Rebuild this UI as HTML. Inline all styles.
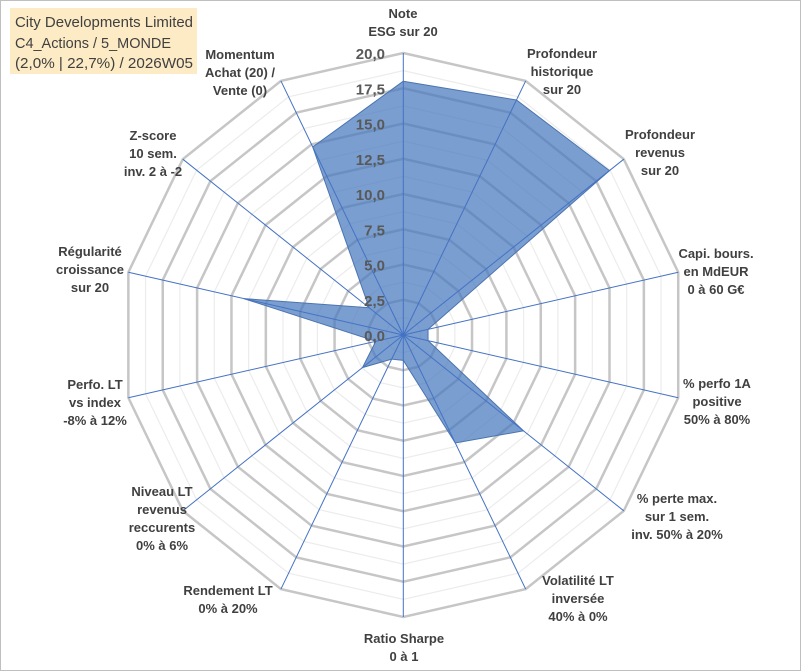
<!DOCTYPE html>
<html><head><meta charset="utf-8"><style>
html,body{margin:0;padding:0;background:#fff}
svg{display:block;font-family:"Liberation Sans",sans-serif}
</style></head><body>
<svg id="chart" width="801" height="671">
<rect x="0.5" y="0.5" width="800" height="670" fill="#fff" stroke="#bfbfbf"/>
<g id="grid"></g><g id="series"></g><g id="spokes"></g><g id="ticks"></g><g id="labels"></g>
<g>
<rect x="10" y="8" width="187" height="66" fill="#fcebc4"/>
<text x="15" y="27" font-size="15" fill="#404040" textLength="178" lengthAdjust="spacingAndGlyphs">City Developments Limited</text>
<text x="15" y="48" font-size="15" fill="#404040" textLength="156" lengthAdjust="spacingAndGlyphs">C4_Actions / 5_MONDE</text>
<text x="15" y="68" font-size="15" fill="#404040" textLength="178" lengthAdjust="spacingAndGlyphs">(2,0% | 22,7%) / 2026W05</text>
</g>
</svg>
<script>
const categories=[["Note","ESG sur 20"],["Profondeur","historique","sur 20"],["Profondeur","revenus","sur 20"],["Capi. bours.","en MdEUR","0 à 60 G€"],["% perfo 1A","positive","50% à 80%"],["% perte max.","sur 1 sem.","inv. 50% à 20%"],["Volatilité LT","inversée","40% à 0%"],["Ratio Sharpe","0 à 1"],["Rendement LT","0% à 20%"],["Niveau LT","revenus","reccurents","0% à 6%"],["Perfo. LT","vs index","-8% à 12%"],["Régularité","croissance","sur 20"],["Z-score","10 sem.","inv. 2 à -2"],["Momentum","Achat (20) /","Vente (0)"]];
const values=[18.0,18.5,18.7,1.8,1.8,10.9,8.5,1.8,1.9,3.7,2.0,11.6,3.1,14.8];
const tickLabels=["0,0","2,5","5,0","7,5","10,0","12,5","15,0","17,5","20,0"];
const tickValues=[0,2.5,5,7.5,10,12.5,15,17.5,20];
const labelPos=[[403,13],[562,53],[660,134],[716,253],[717,383],[677,498],[578,580],[404,638],[228,590],[162,491],[95,384],[90,251],[153,135],[240,54]];
const NS="http://www.w3.org/2000/svg",cx=403.3,cy=335,R=282,MAX=20,N=categories.length;
const r=v=>v/MAX*R;
const ang=i=>-Math.PI/2+i*2*Math.PI/N;
const pt=(i,v)=>[cx+r(v)*Math.cos(ang(i)),cy+r(v)*Math.sin(ang(i))];
function mk(t,a,p){const e=document.createElementNS(NS,t);for(const k in a)e.setAttribute(k,a[k]);p.appendChild(e);return e;}
const grid=document.getElementById('grid');
for(let k=1;k<=16;k++){const v=k*1.25;const pts=categories.map((c,i)=>pt(i,v).join(',')).join(' ');
const e=mk('polygon',{points:pts,fill:'none',stroke:k%2==0?'#c6c6c6':'#ececec','stroke-width':k%2==0?2.5:1.2},grid);

}
const sp=document.getElementById('spokes');
categories.forEach((c,i)=>{const p=pt(i,MAX);const e=mk('line',{x1:cx,y1:cy,x2:p[0],y2:p[1],stroke:'#4472c4','stroke-width':1},sp);

});
const ser=document.getElementById('series');
const poly=mk('polygon',{points:values.map((v,i)=>pt(i,v).join(',')).join(' '),fill:'rgba(70,120,190,0.72)',stroke:'#4a74b0','stroke-width':1},ser);


const tk=document.getElementById('ticks');
tickValues.forEach((v,j)=>{const e=mk('text',{x:385,y:cy-r(v)+6,'text-anchor':'end','font-size':15,'font-weight':'bold',fill:'#595959'},tk);e.textContent=tickLabels[j];

});
const lb=document.getElementById('labels');
categories.forEach((c,i)=>{const g=mk('text',{'text-anchor':'middle','font-size':13,'font-weight':'bold',fill:'#404040'},lb);


c.forEach((line,j)=>{const t=mk('tspan',{x:labelPos[i][0],y:labelPos[i][1]+5+j*18},g);t.textContent=line;});});
</script>
</body></html>
